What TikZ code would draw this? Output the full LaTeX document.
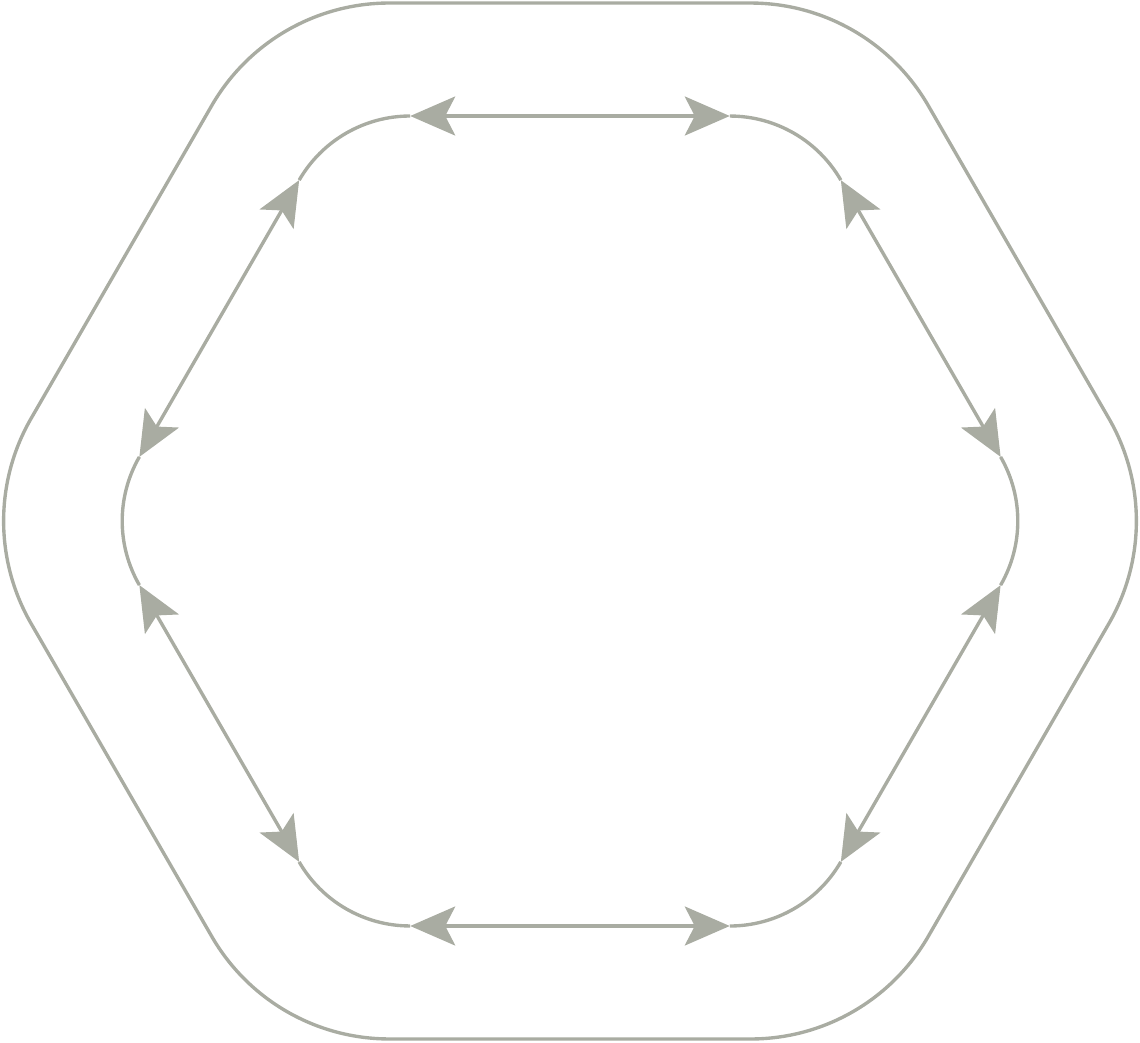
\documentclass[tikz,border=0pt]{standalone}
\usetikzlibrary{arrows.meta}
\definecolor{hexgray}{RGB}{169,172,162}
\tikzset{
  rim/.style={hexgray,line width=3.2pt*0.6},
  edgearrow/.style={rim,{Stealth[length=0.9cm,width=0.78cm,inset=0.2cm]}-{Stealth[length=0.9cm,width=0.78cm,inset=0.2cm]}}
}
\begin{document}
\begin{tikzpicture}[x=0.02cm,y=0.02cm]
  \useasboundingbox (-570,-521) rectangle (570,521);
  % outer rounded hexagon
  \draw[rim] (-10.77:548.6) arc[start angle=-30,end angle=30,radius=205]
    -- (49.23:548.6) arc[start angle=30,end angle=90,radius=205]
    -- (109.23:548.6) arc[start angle=90,end angle=150,radius=205]
    -- (169.23:548.6) arc[start angle=150,end angle=210,radius=205]
    -- (229.23:548.6) arc[start angle=210,end angle=270,radius=205]
    -- (289.23:548.6) arc[start angle=270,end angle=330,radius=205]
    -- cycle;

  % inner corner points
  \coordinate (r1) at (-8.47:435.4);
  \coordinate (r2) at (8.47:435.4);
  \coordinate (ur1) at (51.53:435.4);
  \coordinate (ur2) at (68.47:435.4);
  \coordinate (ul1) at (111.53:435.4);
  \coordinate (ul2) at (128.47:435.4);
  \coordinate (l1) at (171.53:435.4);
  \coordinate (l2) at (188.47:435.4);
  \coordinate (ll1) at (231.53:435.4);
  \coordinate (ll2) at (248.47:435.4);
  \coordinate (lr1) at (291.53:435.4);
  \coordinate (lr2) at (308.47:435.4);

  % inner arcs
  \draw[rim] (r1) arc[start angle=-30,end angle=30,radius=128.2];
  \draw[rim] (ur1) arc[start angle=30,end angle=90,radius=128.2];
  \draw[rim] (ul1) arc[start angle=90,end angle=150,radius=128.2];
  \draw[rim] (l1) arc[start angle=150,end angle=210,radius=128.2];
  \draw[rim] (ll1) arc[start angle=210,end angle=270,radius=128.2];
  \draw[rim] (lr1) arc[start angle=270,end angle=330,radius=128.2];

  % inner edges
  \draw[edgearrow] (r2) -- (ur1);
  \draw[edgearrow] (ur2) -- (ul1);
  \draw[edgearrow] (ul2) -- (l1);
  \draw[edgearrow] (l2) -- (ll1);
  \draw[edgearrow] (ll2) -- (lr1);
  \draw[edgearrow] (lr2) -- (r1);
\end{tikzpicture}
\end{document}
